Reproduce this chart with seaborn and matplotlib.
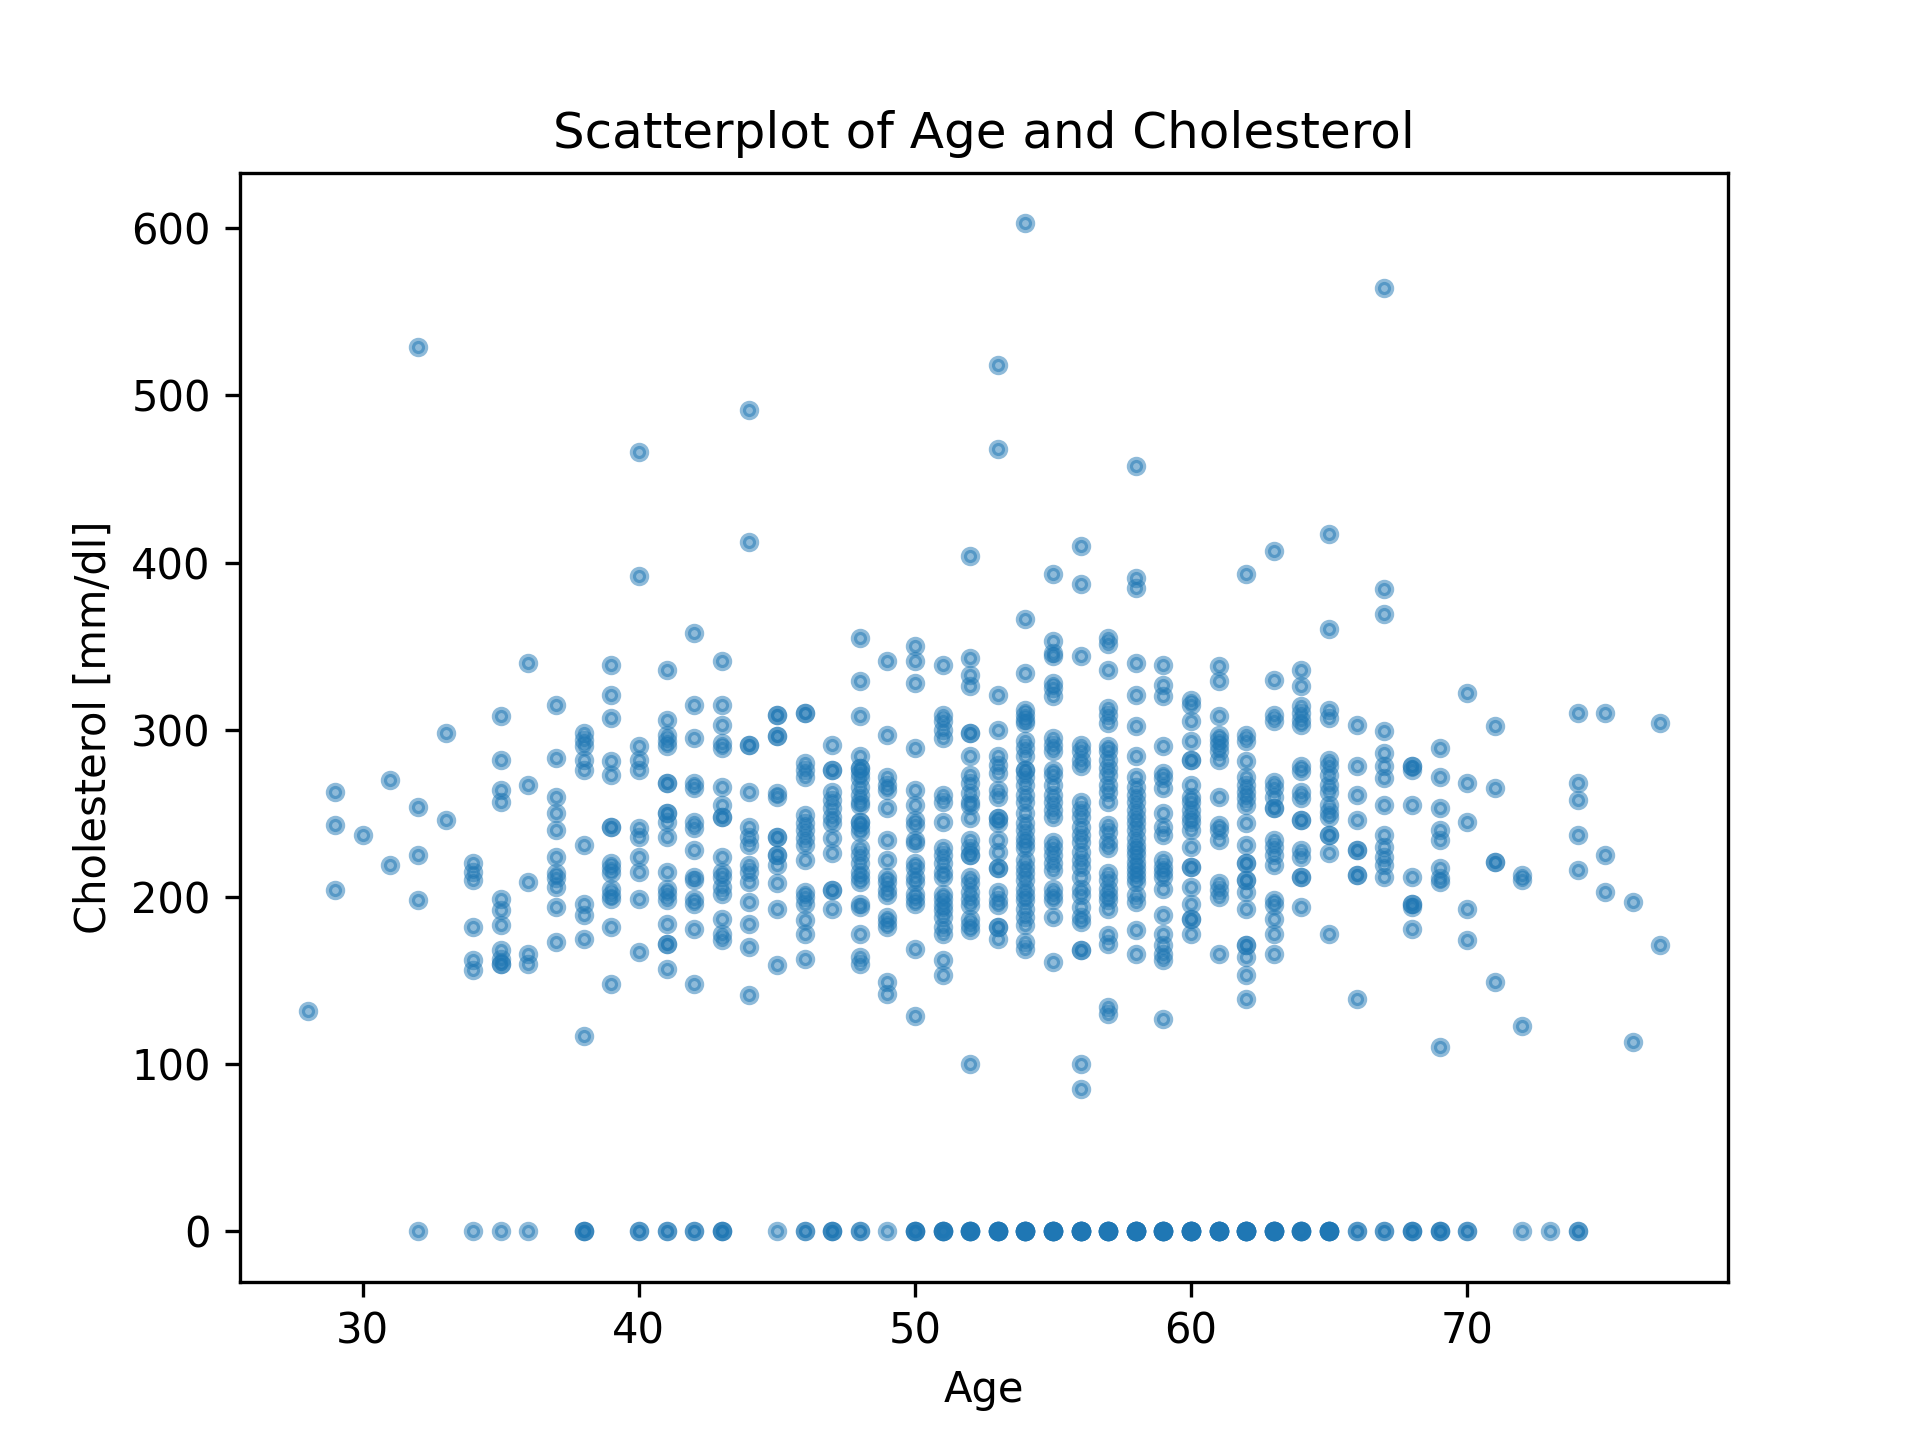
import matplotlib
matplotlib.use("Agg")
import matplotlib.pyplot as plt
import seaborn as sns
import pandas as pd

# Ages (x positions are integer years)
ages = list(range(28, 78))

# Non-zero cholesterol readings for each age in `ages`
cholesterol_by_age = [
    [132],                                                        # 28
    [263, 243, 204],                                              # 29
    [237],                                                        # 30
    [270, 219],                                                   # 31
    [529, 254, 225, 198],                                         # 32
    [298, 246],                                                   # 33
    [220, 215, 210, 182, 162, 156],                               # 34
    [308, 282, 264, 257, 199, 192, 183, 168, 163, 160, 160],      # 35
    [340, 267, 209, 166, 160],                                    # 36
    [315, 283, 260, 250, 240, 224, 214, 211, 206, 194, 173],      # 37
    [298, 294, 290, 282, 276, 231, 196, 189, 175, 117],           # 38
    [339, 321, 307, 281, 273, 242, 242, 220, 217, 214, 205, 201, 199, 182, 148],  # 39
    [466, 392, 290, 282, 276, 241, 236, 224, 215, 199, 167],      # 40
    [336, 306, 297, 293, 290, 268, 268, 250, 250, 245, 236, 215, 205, 202, 198,
     184, 172, 172, 157],                                         # 41
    [358, 315, 295, 268, 265, 245, 241, 228, 212, 210, 199, 196, 181, 148],  # 42
    [341, 315, 303, 292, 289, 266, 255, 248, 248, 224, 215, 212, 206, 202, 187,
     178, 174],                                                   # 43
    [491, 412, 291, 291, 263, 242, 236, 231, 219, 215, 209, 197, 184, 170, 141],  # 44
    [309, 309, 296, 296, 262, 260, 236, 236, 225, 225, 219, 208, 193, 159],  # 45
    [310, 310, 280, 276, 272, 249, 244, 240, 235, 231, 222, 203, 200, 196, 186,
     178, 163],                                                   # 46
    [291, 276, 276, 263, 258, 253, 248, 244, 235, 226, 204, 204, 193],  # 47
    [355, 329, 308, 284, 277, 277, 274, 271, 266, 261, 257, 255, 245, 245, 242,
     239, 229, 225, 220, 215, 212, 209, 196, 194, 178, 164, 160],  # 48
    [341, 297, 272, 267, 264, 253, 234, 222, 212, 209, 204, 201, 188, 185, 182,
     149, 142],                                                   # 49
    [350, 341, 328, 289, 264, 255, 246, 243, 234, 232, 220, 217, 212, 209, 202,
     199, 196, 169, 129],                                         # 50
    [339, 309, 305, 300, 295, 261, 257, 245, 229, 225, 220, 215, 212, 202, 199,
     195, 192, 188, 182, 178, 162, 153],                          # 51
    [404, 343, 333, 326, 298, 298, 284, 273, 268, 262, 257, 255, 247, 234, 229,
     225, 225, 212, 208, 203, 199, 195, 187, 183, 180, 100],      # 52
    [518, 468, 321, 300, 284, 279, 274, 264, 260, 247, 247, 244, 234, 227, 217,
     217, 203, 198, 195, 182, 182, 175],                          # 53
    [603, 366, 334, 312, 309, 306, 304, 293, 289, 284, 276, 276, 272, 267, 261,
     257, 250, 244, 240, 235, 232, 229, 222, 218, 214, 210, 205, 201, 198, 193,
     188, 183, 173, 169],                                         # 54
    [393, 353, 346, 344, 328, 325, 320, 295, 291, 287, 276, 273, 267, 261, 257,
     252, 248, 233, 229, 225, 220, 216, 205, 201, 198, 188, 161],  # 55
    [410, 387, 344, 291, 287, 282, 278, 257, 252, 248, 242, 237, 233, 227, 222,
     218, 212, 205, 201, 194, 188, 185, 168, 168, 100, 85],       # 56
    [355, 351, 336, 313, 309, 304, 290, 287, 282, 277, 273, 267, 263, 257, 243,
     239, 233, 229, 214, 210, 205, 201, 198, 193, 177, 172, 134, 130],  # 57
    [458, 391, 385, 340, 321, 302, 284, 272, 266, 261, 257, 252, 248, 244, 240,
     235, 231, 228, 225, 221, 218, 215, 212, 209, 201, 197, 180, 166],  # 58
    [339, 327, 320, 290, 274, 271, 265, 250, 242, 237, 222, 218, 215, 212, 205,
     189, 178, 171, 166, 162, 127],                               # 59
    [318, 315, 305, 293, 282, 282, 267, 260, 257, 252, 248, 245, 240, 230, 218,
     218, 206, 196, 187, 187, 178],                               # 60
    [338, 329, 308, 297, 294, 291, 287, 282, 260, 243, 240, 234, 208, 204, 200,
     166],                                                        # 61
    [393, 297, 293, 281, 272, 267, 263, 259, 255, 244, 231, 220, 220, 210, 210,
     203, 193, 171, 171, 164, 153, 139],                          # 62
    [407, 330, 309, 305, 269, 265, 260, 253, 253, 234, 230, 225, 219, 198, 195,
     187, 178, 166],                                              # 63
    [336, 326, 314, 310, 306, 303, 278, 275, 263, 259, 246, 246, 228, 224, 212,
     212, 194],                                                   # 64
    [417, 360, 312, 307, 282, 278, 273, 267, 263, 255, 251, 248, 237, 237, 226,
     178],                                                        # 65
    [303, 278, 261, 246, 228, 228, 213, 213, 139],                # 66
    [564, 384, 369, 299, 286, 278, 271, 255, 237, 230, 224, 219, 212],  # 67
    [278, 278, 276, 255, 212, 196, 196, 194, 181],                # 68
    [289, 272, 253, 240, 234, 217, 211, 209, 110],                # 69
    [322, 268, 245, 193, 174],                                    # 70
    [302, 265, 221, 221, 149],                                    # 71
    [213, 210, 123],                                              # 72
    [],                                                           # 73
    [310, 268, 258, 237, 216],                                    # 74
    [310, 225, 203],                                              # 75
    [197, 113],                                                   # 76
    [304, 171],                                                   # 77
]

# Records with cholesterol recorded as 0 (the row along the bottom)
zero_ages = [32, 34, 35, 36, 38, 40, 41, 42, 43, 45, 46, 47, 48, 49, 50, 51, 52,
             53, 54, 55, 56, 57, 58, 59, 60, 61, 62, 63, 64, 65, 66, 67, 68, 69,
             70, 72, 73, 74]
zero_counts = [1, 1, 1, 1, 3, 2, 2, 2, 3, 1, 2, 3, 2, 1, 4, 5, 6,
               7, 8, 8, 9, 8, 9, 8, 9, 9, 9, 8, 6, 7, 2, 2, 3, 3,
               2, 1, 1, 2]

age_col, chol_col = [], []
for a, vals in zip(ages, cholesterol_by_age):
    for v in vals:
        age_col.append(a)
        chol_col.append(v)
for a, n in zip(zero_ages, zero_counts):
    age_col.extend([a] * n)
    chol_col.extend([0] * n)

df = pd.DataFrame({"Age": age_col, "Cholesterol": chol_col})

fig, ax = plt.subplots(figsize=(6.4, 4.8), dpi=300)
sns.scatterplot(data=df, x="Age", y="Cholesterol", ax=ax,
                color="#1f77b4", alpha=0.5, s=10,
                edgecolor="#1f77b4", linewidth=1.5)
ax.set_title("Scatterplot of Age and Cholesterol")
ax.set_xlabel("Age")
ax.set_ylabel("Cholesterol [mm/dl]")
fig.savefig("out.png", dpi=300)
